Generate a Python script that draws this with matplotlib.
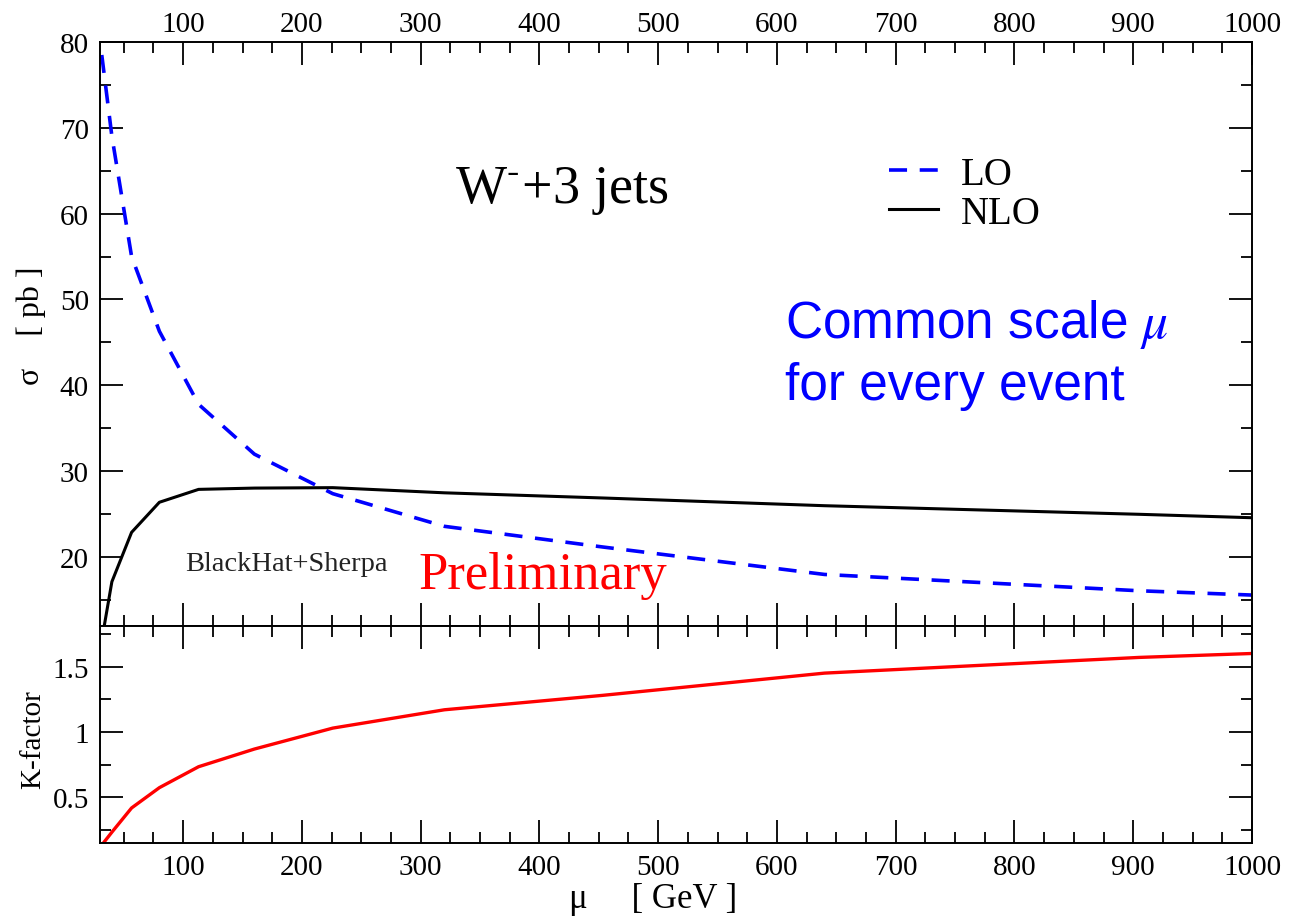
import matplotlib
matplotlib.use("Agg")
import matplotlib.pyplot as plt
from matplotlib.ticker import MultipleLocator, FuncFormatter

plt.rcParams['font.family'] = ['Liberation Serif', 'DejaVu Serif']
plt.rcParams['mathtext.fontset'] = 'stix'

# scale values (GeV) and cross sections
mu = [28.3, 40, 56.6, 80, 113, 160, 226, 320, 453, 640, 905, 1000]
lo = [82.0, 69.0, 55.0, 46.3, 37.8, 32.0, 27.4, 23.6, 21.2, 18.0, 16.1, 15.6]
nlo = [7.8, 17.15, 22.9, 26.4, 27.9, 28.05, 28.1, 27.5, 26.9, 26.0, 25.0, 24.6]
kfac = [0.10, 0.235, 0.42, 0.575, 0.735, 0.87, 1.03, 1.17, 1.28, 1.45, 1.57, 1.60]

W, H = 1291, 920
fig = plt.figure(figsize=(W / 100, H / 100), dpi=100)

x0, x1 = 100, 1252
ytop, ymid, ybot = 42.7, 627, 844.3
ax1 = fig.add_axes([x0 / W, 1 - ymid / H, (x1 - x0) / W, (ymid - ytop) / H])
ax2 = fig.add_axes([x0 / W, 1 - ybot / H, (x1 - x0) / W, (ybot - ymid) / H])

for ax in (ax1, ax2):
    ax.set_xlim(30, 1000)
    ax.xaxis.set_major_locator(MultipleLocator(100))
    ax.xaxis.set_minor_locator(MultipleLocator(25))
    ax.tick_params(which='both', direction='in', top=True, right=True,
                   width=1.3, labelsize=21)
    ax.tick_params(which='major', length=16.5, pad=8)
    ax.tick_params(which='minor', length=8)
    for s in ax.spines.values():
        s.set_linewidth(1.4)

# top panel: cross sections
ax1.plot(mu, lo, color='#0000ff', lw=2.6, dashes=(5, 3.5), label='LO')
ax1.plot(mu, nlo, color='black', lw=2.2, label='NLO')
ax1.set_ylim(12, 80)
ax1.yaxis.set_major_locator(MultipleLocator(10))
ax1.yaxis.set_minor_locator(MultipleLocator(5))
ax1.tick_params(axis='x', labelbottom=False, labeltop=True, pad=3.5)
ax1.set_ylabel('σ    [ pb ]', fontsize=23)
ax1.yaxis.set_label_coords(-0.047, 0.515)

ax1.text(329, 61.3, r'W$^{\text{-}}$+3 jets', fontsize=39, ha='left',
         va='baseline')
ax1.text(607, 45.6, r'Common scale $\mu$', color='#0000ff', fontsize=37,
         family='Liberation Sans', ha='left', va='baseline')
ax1.text(607, 38.4, 'for every event', color='#0000ff', fontsize=37,
         family='Liberation Sans', ha='left', va='baseline')
ax1.text(101.7, 18.5, 'BlackHat+Sherpa', fontsize=20.5, ha='left', va='baseline',
         color='#222222')
ax1.text(298, 16.4, 'Preliminary', color='red', fontsize=38, ha='left',
         va='baseline')

ax1.legend(loc='upper left', bbox_to_anchor=(0.685, 0.805), frameon=False,
           fontsize=28, handlelength=1.25, handletextpad=0.6,
           labelspacing=0.05, borderpad=0, borderaxespad=0)

# bottom panel: K-factor
ax2.plot(mu, kfac, color='red', lw=2.4)
ax2.set_ylim(0.15, 1.81)
ax2.yaxis.set_major_locator(MultipleLocator(0.5))
ax2.yaxis.set_minor_locator(MultipleLocator(0.25))
ax2.yaxis.set_major_formatter(FuncFormatter(lambda v, p: '%g' % v))
ax2.set_ylabel('K-factor', fontsize=21)
ax2.yaxis.set_label_coords(-0.047, 0.48)
ax2.set_xlabel('μ     [ GeV ]', fontsize=25)
ax2.xaxis.set_label_coords(0.48, -0.18)

fig.savefig('out.png', dpi=100)
